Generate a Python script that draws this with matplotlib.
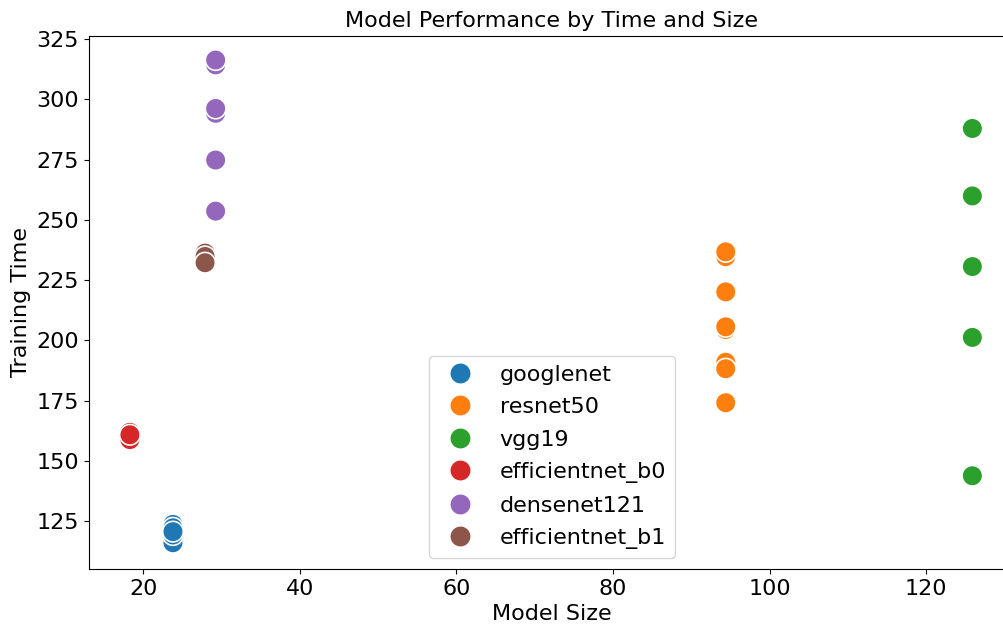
import matplotlib
matplotlib.use("Agg")
import matplotlib.pyplot as plt
import seaborn as sns
import pandas as pd

models = ["googlenet", "resnet50", "vgg19", "efficientnet_b0", "densenet121", "efficientnet_b1"]

googlenet_size = [23.8, 23.8, 23.8, 23.8, 23.8]
googlenet_time = [123.6, 116.0, 122.2, 119.2, 120.6]

resnet50_size = [94.4, 94.4, 94.4, 94.4, 94.4, 94.4, 94.4, 94.4]
resnet50_time = [234.7, 220.1, 204.5, 190.9, 174.1, 188.2, 205.6, 236.7]

vgg19_size = [125.9, 125.9, 125.9, 125.9, 125.9]
vgg19_time = [287.9, 259.9, 230.6, 201.2, 143.8]

efficientnet_b0_size = [18.3, 18.3, 18.3]
efficientnet_b0_time = [161.8, 158.8, 160.8]

densenet121_size = [29.25, 29.25, 29.25, 29.25, 29.25, 29.25]
densenet121_time = [314.3, 294.2, 274.8, 253.6, 316.3, 296.2]

efficientnet_b1_size = [27.9, 27.9, 27.9]
efficientnet_b1_time = [236.2, 234.8, 232.2]

sizes = [googlenet_size, resnet50_size, vgg19_size, efficientnet_b0_size,
         densenet121_size, efficientnet_b1_size]
times = [googlenet_time, resnet50_time, vgg19_time, efficientnet_b0_time,
         densenet121_time, efficientnet_b1_time]

rows = []
for m, xs, ys in zip(models, sizes, times):
    for x, y in zip(xs, ys):
        rows.append({"Model": m, "Model Size": x, "Training Time": y})
df = pd.DataFrame(rows)

fig = plt.figure(figsize=(10.04, 6.25), dpi=100)
ax = fig.add_axes([0.0886, 0.0896, 0.922, 0.8533])

sns.scatterplot(data=df, x="Model Size", y="Training Time", hue="Model",
                hue_order=models, s=220, ax=ax)

ax.set_xlim(13.07, 131.3)
ax.set_ylim(105.1, 326.4)
ax.set_xticks([20, 40, 60, 80, 100, 120])
ax.set_yticks([125, 150, 175, 200, 225, 250, 275, 300, 325])
ax.tick_params(labelsize=16)
ax.set_xlabel("Model Size", fontsize=16)
ax.set_ylabel("Training Time", fontsize=16)
ax.set_title("Model Performance by Time and Size", fontsize=16)

leg = ax.legend(loc="lower center", fontsize=16, bbox_to_anchor=(0.5, 0.0),
                labelspacing=0.56)
for h in leg.legend_handles:
    try:
        h.set_sizes([240])
    except AttributeError:
        h.set_markersize(15.5)

fig.savefig("out.png", dpi=100)
